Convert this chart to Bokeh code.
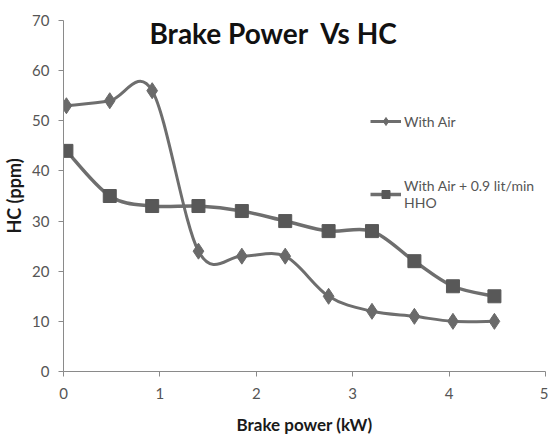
import numpy as np
from bokeh.plotting import figure
from bokeh.models import ColumnDataSource, Legend, LegendItem, Label, FixedTicker
from bokeh.embed import file_html
from bokeh.resources import INLINE

# ---- data ----
brake_power = [0.03, 0.48, 0.92, 1.40, 1.85, 2.30, 2.75, 3.20, 3.64, 4.04, 4.47]
hc_with_air = [53, 54, 56, 24, 23, 23, 15, 12, 11, 10, 10]
hc_with_hho = [44, 35, 33, 33, 32, 30, 28, 28, 22, 17, 15]
x_ticks = [0, 1, 2, 3, 4, 5]
y_ticks = [0, 10, 20, 30, 40, 50, 60, 70]
series_names = ["With Air", "With Air + 0.9 lit/min\nHHO"]
title_text = "Brake Power\u00a0 Vs HC"

FONT = "Lato"
LINE = "#6e6e6e"


def smooth_segments(xs, ys):
    """Catmull-Rom style bezier control points (Excel 'smoothed line')."""
    x = np.asarray(xs, float)
    y = np.asarray(ys, float)
    n = len(x)
    xp = np.concatenate([[x[0]], x, [x[-1]]])
    yp = np.concatenate([[y[0]], y, [y[-1]]])
    d = dict(x0=[], y0=[], x1=[], y1=[], cx0=[], cy0=[], cx1=[], cy1=[])
    for i in range(n - 1):
        p0x, p0y = xp[i], yp[i]
        p1x, p1y = xp[i + 1], yp[i + 1]
        p2x, p2y = xp[i + 2], yp[i + 2]
        p3x, p3y = xp[i + 3], yp[i + 3]
        d["x0"].append(p1x); d["y0"].append(p1y)
        d["x1"].append(p2x); d["y1"].append(p2y)
        d["cx0"].append(p1x + (p2x - p0x) / 6); d["cy0"].append(p1y + (p2y - p0y) / 6)
        d["cx1"].append(p2x - (p3x - p1x) / 6); d["cy1"].append(p2y - (p3y - p1y) / 6)
    return ColumnDataSource(d)


p = figure(width=548, height=437, output_backend="svg", toolbar_location=None,
           x_range=(0, 5), y_range=(0, 70),
           min_border_left=63, min_border_right=3, min_border_top=20, min_border_bottom=64)
p.outline_line_color = None
p.xgrid.visible = False
p.ygrid.visible = False
p.background_fill_color = "white"
p.border_fill_color = "white"

src_a = ColumnDataSource(dict(x=brake_power, y=hc_with_air))
src_b = ColumnDataSource(dict(x=brake_power, y=hc_with_hho))

bz_a = p.bezier(x0="x0", y0="y0", x1="x1", y1="y1", cx0="cx0", cy0="cy0", cx1="cx1", cy1="cy1",
                source=smooth_segments(brake_power, hc_with_air), line_color=LINE, line_width=3)
bz_b = p.bezier(x0="x0", y0="y0", x1="x1", y1="y1", cx0="cx0", cy0="cy0", cx1="cx1", cy1="cy1",
                source=smooth_segments(brake_power, hc_with_hho), line_color=LINE, line_width=3.5)
mk_a = p.scatter("x", "y", source=src_a, marker="diamond", size=16,
                 fill_color="#6a6a6a", line_color="#6a6a6a")
mk_b = p.scatter("x", "y", source=src_b, marker="square", size=13,
                 fill_color="#585858", line_color="#585858")

# axes
for ax in (p.xaxis[0], p.yaxis[0]):
    ax.axis_line_color = "#8a8a8a"
    ax.major_tick_line_color = "#8a8a8a"
    ax.minor_tick_line_color = None
    ax.major_tick_out = 5
    ax.major_tick_in = 0
    ax.major_label_text_font = FONT
    ax.major_label_text_font_size = "15px"
    ax.major_label_text_color = "#555555"
    ax.axis_label_text_font = FONT
    ax.axis_label_text_font_style = "bold"
    ax.axis_label_text_color = "#1a1a1a"

p.xaxis.ticker = FixedTicker(ticks=x_ticks)
p.yaxis.ticker = FixedTicker(ticks=y_ticks)
p.xaxis.axis_label = "Brake power (kW)"
p.yaxis.axis_label = "HC (ppm)"
p.xaxis.axis_label_text_font_size = "17px"
p.yaxis.axis_label_text_font_size = "18px"
p.xaxis.major_label_standoff = 11
p.xaxis.axis_label_standoff = 12
p.yaxis.major_label_standoff = 9
p.yaxis.axis_label_standoff = 4

# title inside plot area
p.add_layout(Label(x=2.18, y=67.5, text=title_text, text_align="center", text_baseline="middle",
                   text_font=FONT, text_font_style="bold", text_font_size="28px",
                   text_color="#111111"))

legend = Legend(items=[
    LegendItem(label=series_names[0], renderers=[bz_a, mk_a]),
    LegendItem(label=series_names[1], renderers=[bz_b, mk_b]),
], location=(307, 160))
legend.border_line_color = None
legend.background_fill_alpha = 0
legend.label_text_font = FONT
legend.label_text_font_size = "14px"
legend.label_text_color = "#555555"
legend.label_text_line_height = 1.6
legend.glyph_width = 31
legend.label_standoff = 3
legend.spacing = 46
legend.padding = 0
legend.margin = 0
p.add_layout(legend)

open("out.html", "w").write(file_html(p, INLINE))
